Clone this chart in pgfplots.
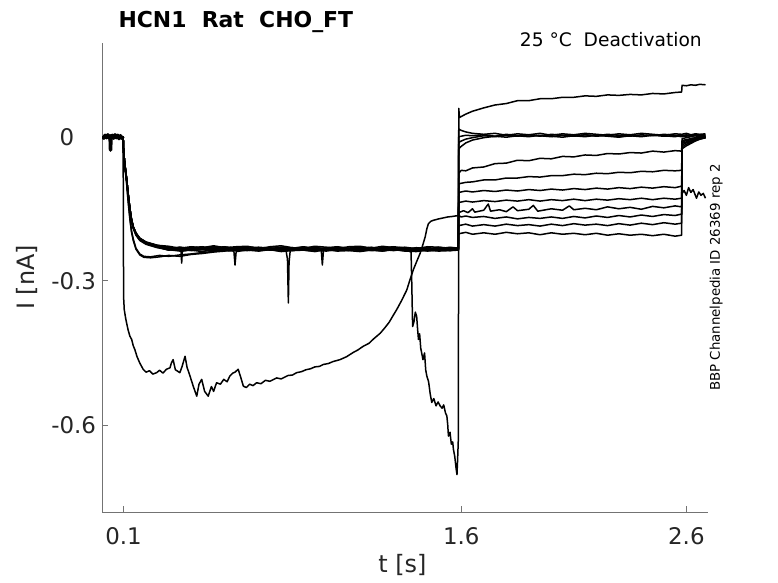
\documentclass[border=0pt]{standalone}
\usepackage{pgfplots}
\pgfplotsset{compat=1.18}
\usepackage{fontspec}
\setmainfont{DejaVu Sans}
\tikzset{tr/.style={black, line width=1.5bp, line join=round}}
\begin{document}
\begin{tikzpicture}
\begin{axis}[
  scale only axis, width=606bp, height=469bp,
  xmin=0.005, xmax=2.697, ymin=-0.781, ymax=0.195,
  axis x line*=bottom, axis y line*=left,
  axis line style={black!55, line width=0.8bp, -},
  xtick={0.1,1.6,2.6}, xticklabels={0.1,1.6,2.6},
  ytick={-0.6,-0.3,0}, yticklabels={-0.6,-0.3,{0\phantom{.0}}},
  tick align=inside, major tick length=6bp,
  tick style={black!55, line width=0.8bp},
  ticklabel style={font=\fontsize{23}{27}\selectfont, text=black!85},
  xticklabel style={anchor=base, yshift=-32.5bp},
  yticklabel style={anchor=east, xshift=-2.7bp},
  xlabel={t [s]}, ylabel={I [nA]},
  every axis x label/.style={at={(axis description cs:0.4955,-0.130)}, anchor=base, font=\fontsize{24}{28}\selectfont, text=black!85},
  every axis y label/.style={at={(axis description cs:-0.1233,0.5)}, anchor=center, rotate=90, font=\fontsize{24}{28}\selectfont, text=black!85},
  no markers,
]
% pre-pulse baseline (all sweeps overlap)
\addplot[black, line width=3.5bp, line join=round] coordinates {(0.005,0.001)(0.012,-0.003)(0.018,0.003)(0.024,-0.002)(0.03,0.004)(0.036,-0.003)(0.04,0.002)(0.042,-0.028)(0.044,-0.004)(0.05,0.003)(0.056,-0.003)(0.062,0.004)(0.068,-0.002)(0.074,0.003)(0.08,-0.004)(0.086,0.002)(0.092,-0.003)(0.098,0.001)};
% T1 (drops before 1.6, top trace after)
\addplot[tr] coordinates {(0.098,0)(0.1,-0.03)(0.105,-0.055)(0.113,-0.086)(0.12,-0.118)(0.128,-0.150)(0.135,-0.172)(0.143,-0.188)(0.155,-0.201)(0.172,-0.212)(0.2,-0.220)(0.25,-0.227)
(0.30,-0.231)(0.35,-0.235)(0.40,-0.232)(0.45,-0.234)(0.50,-0.230)(0.55,-0.233)(0.60,-0.236)(0.65,-0.232)(0.70,-0.234)(0.75,-0.231)(0.80,-0.235)(0.85,-0.233)(0.90,-0.230)(0.95,-0.234)(1.00,-0.236)(1.05,-0.232)(1.10,-0.234)(1.15,-0.231)(1.20,-0.235)(1.25,-0.233)(1.30,-0.236)(1.35,-0.234)(1.377,-0.240)
(1.380,-0.300)(1.384,-0.395)(1.390,-0.385)(1.396,-0.365)(1.402,-0.374)(1.406,-0.40)(1.41,-0.422)(1.415,-0.41)(1.42,-0.44)(1.43,-0.464)(1.437,-0.45)(1.442,-0.485)(1.447,-0.498)(1.455,-0.51)(1.462,-0.535)(1.469,-0.553)(1.478,-0.545)(1.488,-0.56)(1.497,-0.552)(1.506,-0.56)(1.515,-0.565)(1.522,-0.558)(1.53,-0.575)(1.536,-0.581)(1.54,-0.60)(1.543,-0.623)(1.55,-0.615)(1.556,-0.64)(1.562,-0.635)(1.565,-0.65)(1.571,-0.665)(1.577,-0.69)(1.581,-0.703)(1.584,-0.67)(1.587,-0.63)
(1.589,0.059)(1.592,0.040)(1.62,0.047)(1.65,0.053)(1.70,0.060)(1.75,0.066)(1.80,0.069)(1.85,0.075)(1.90,0.075)(1.95,0.079)(2.00,0.079)(2.05,0.082)(2.10,0.082)(2.15,0.085)(2.20,0.084)(2.25,0.087)(2.30,0.086)(2.35,0.088)(2.40,0.087)(2.45,0.090)(2.50,0.089)(2.55,0.092)(2.579,0.093)
(2.581,0.107)(2.60,0.106)(2.62,0.108)(2.64,0.107)(2.66,0.109)(2.685,0.108)};
% T2
\addplot[tr] coordinates {(0.098,0)(0.1,-0.03)(0.105,-0.055)(0.113,-0.086)(0.12,-0.118)(0.128,-0.150)(0.135,-0.172)(0.143,-0.188)(0.155,-0.201)(0.172,-0.212)(0.2,-0.220)(0.25,-0.226)
(0.30,-0.228)(0.35,-0.232)(0.40,-0.229)(0.45,-0.231)(0.50,-0.227)(0.55,-0.231)(0.60,-0.229)(0.65,-0.228)(0.70,-0.233)(0.75,-0.229)(0.80,-0.227)(0.85,-0.231)(0.90,-0.232)(0.95,-0.228)(1.00,-0.230)(1.05,-0.233)(1.10,-0.229)(1.15,-0.228)(1.20,-0.232)(1.25,-0.228)(1.30,-0.231)(1.35,-0.230)(1.40,-0.233)(1.45,-0.229)(1.50,-0.230)(1.55,-0.232)(1.587,-0.231)
(1.589,0.016)(1.60,0.013)(1.62,0.010)(1.65,0.007)(1.70,0.005)(1.75,0.007)(1.80,0.003)(1.85,0.006)(1.90,0.004)(1.95,0.007)(2.00,0.003)(2.05,0.006)(2.10,0.004)(2.15,0.007)(2.20,0.005)(2.25,0.003)(2.30,0.006)(2.35,0.004)(2.40,0.007)(2.45,0.005)(2.50,0.003)(2.55,0.006)(2.58,0.005)(2.60,0.007)(2.62,0.004)(2.64,0.006)(2.66,0.005)(2.685,0.006)};
% T3
\addplot[tr] coordinates {(0.098,0)(0.1,-0.03)(0.105,-0.056)(0.113,-0.087)(0.12,-0.119)(0.128,-0.151)(0.135,-0.173)(0.143,-0.189)(0.155,-0.202)(0.172,-0.213)(0.2,-0.221)(0.25,-0.228)
(0.30,-0.234)(0.35,-0.230)(0.40,-0.233)(0.45,-0.235)(0.50,-0.231)(0.55,-0.229)(0.60,-0.233)(0.65,-0.236)(0.70,-0.231)(0.75,-0.232)(0.80,-0.234)(0.822,-0.238)(0.828,-0.255)(0.832,-0.346)(0.835,-0.262)(0.84,-0.238)(0.85,-0.233)(0.90,-0.230)(0.95,-0.234)(1.00,-0.231)(1.05,-0.235)(1.10,-0.232)(1.15,-0.229)(1.20,-0.233)(1.25,-0.236)(1.30,-0.231)(1.35,-0.234)(1.40,-0.232)(1.45,-0.235)(1.50,-0.230)(1.55,-0.233)(1.587,-0.235)
(1.589,0.000)(1.60,0.001)(1.62,0.003)(1.65,0.002)(1.70,0.004)(1.75,0.001)(1.80,0.005)(1.85,0.002)(1.90,0.004)(1.95,0.001)(2.00,0.005)(2.05,0.003)(2.10,0.001)(2.15,0.004)(2.20,0.002)(2.25,0.005)(2.30,0.003)(2.35,0.001)(2.40,0.004)(2.45,0.002)(2.50,0.005)(2.55,0.003)(2.58,0.002)(2.60,0.004)(2.62,0.002)(2.64,0.005)(2.66,0.003)(2.685,0.004)};
% T4
\addplot[tr] coordinates {(0.098,0)(0.1,-0.03)(0.105,-0.055)(0.113,-0.086)(0.12,-0.118)(0.128,-0.150)(0.135,-0.172)(0.143,-0.189)(0.155,-0.203)(0.172,-0.214)(0.2,-0.222)(0.25,-0.229)
(0.30,-0.236)(0.35,-0.233)(0.355,-0.238)(0.358,-0.263)(0.361,-0.238)(0.40,-0.235)(0.45,-0.232)(0.50,-0.236)(0.55,-0.234)(0.60,-0.231)(0.65,-0.235)(0.70,-0.237)(0.75,-0.233)(0.80,-0.232)(0.85,-0.236)(0.90,-0.234)(0.95,-0.231)(1.00,-0.235)(1.05,-0.237)(1.10,-0.233)(1.15,-0.234)(1.20,-0.236)(1.25,-0.232)(1.30,-0.235)(1.35,-0.237)(1.40,-0.234)(1.45,-0.232)(1.50,-0.236)(1.55,-0.235)(1.587,-0.234)
(1.589,-0.012)(1.60,-0.009)(1.62,-0.005)(1.65,-0.002)(1.70,0.002)(1.75,0.000)(1.80,0.003)(1.85,0.001)(1.90,0.004)(1.95,0.002)(2.00,0.000)(2.05,0.003)(2.10,0.001)(2.15,0.004)(2.20,0.001)(2.25,0.003)(2.30,0.000)(2.35,0.003)(2.40,0.001)(2.45,0.004)(2.50,0.002)(2.55,0.000)(2.58,0.003)(2.60,0.001)(2.62,0.004)(2.64,0.002)(2.66,0.003)(2.685,0.001)};
% T5
\addplot[tr] coordinates {(0.098,0)(0.1,-0.03)(0.105,-0.056)(0.113,-0.088)(0.12,-0.120)(0.128,-0.153)(0.135,-0.175)(0.143,-0.191)(0.155,-0.205)(0.172,-0.216)(0.2,-0.224)(0.25,-0.231)
(0.30,-0.235)(0.35,-0.238)(0.40,-0.236)(0.45,-0.239)(0.50,-0.235)(0.55,-0.237)(0.59,-0.238)(0.595,-0.267)(0.60,-0.239)(0.65,-0.236)(0.70,-0.238)(0.75,-0.235)(0.80,-0.239)(0.85,-0.237)(0.90,-0.236)(0.95,-0.239)(1.00,-0.235)(1.05,-0.238)(1.10,-0.237)(1.15,-0.239)(1.20,-0.236)(1.25,-0.238)(1.30,-0.235)(1.35,-0.238)(1.40,-0.239)(1.45,-0.236)(1.50,-0.238)(1.55,-0.237)(1.587,-0.236)
(1.589,-0.025)(1.60,-0.020)(1.62,-0.013)(1.65,-0.007)(1.70,-0.002)(1.75,0.001)(1.80,-0.001)(1.85,0.002)(1.90,0.000)(1.95,0.003)(2.00,0.001)(2.05,-0.001)(2.10,0.002)(2.15,0.000)(2.20,0.003)(2.25,0.001)(2.30,-0.001)(2.35,0.002)(2.40,0.000)(2.45,0.003)(2.50,0.001)(2.55,0.002)(2.58,0.000)(2.60,0.002)(2.62,0.001)(2.64,0.003)(2.66,0.000)(2.685,0.002)};
% T6
\addplot[tr] coordinates {(0.098,0)(0.1,-0.03)(0.105,-0.055)(0.113,-0.085)(0.12,-0.117)(0.128,-0.149)(0.135,-0.171)(0.143,-0.187)(0.155,-0.200)(0.172,-0.211)(0.2,-0.219)(0.25,-0.226)
(0.30,-0.230)(0.35,-0.233)(0.40,-0.231)(0.45,-0.229)(0.50,-0.233)(0.55,-0.230)(0.60,-0.232)(0.65,-0.229)(0.70,-0.231)(0.75,-0.234)(0.80,-0.230)(0.85,-0.232)(0.90,-0.229)(0.95,-0.233)(0.978,-0.235)(0.983,-0.267)(0.988,-0.236)(1.00,-0.231)(1.05,-0.229)(1.10,-0.232)(1.15,-0.230)(1.20,-0.233)(1.25,-0.231)(1.30,-0.229)(1.35,-0.232)(1.40,-0.234)(1.45,-0.231)(1.50,-0.233)(1.55,-0.230)(1.587,-0.232)
(1.589,-0.076)(1.60,-0.070)(1.62,-0.071)(1.65,-0.065)(1.70,-0.063)(1.75,-0.056)(1.80,-0.055)(1.85,-0.049)(1.90,-0.050)(1.95,-0.045)(2.00,-0.046)(2.05,-0.041)(2.10,-0.042)(2.15,-0.038)(2.20,-0.039)(2.25,-0.035)(2.30,-0.036)(2.35,-0.033)(2.40,-0.034)(2.45,-0.030)(2.50,-0.032)(2.55,-0.029)(2.579,-0.030)
(2.581,-0.004)(2.60,-0.002)(2.62,0.000)(2.64,-0.001)(2.66,0.001)(2.685,0.000)};
% T7
\addplot[tr] coordinates {(0.098,0)(0.1,-0.03)(0.105,-0.055)(0.113,-0.086)(0.12,-0.118)(0.128,-0.150)(0.135,-0.172)(0.143,-0.188)(0.155,-0.202)(0.172,-0.213)(0.2,-0.221)(0.25,-0.228)
(0.30,-0.233)(0.35,-0.236)(0.40,-0.234)(0.45,-0.231)(0.50,-0.235)(0.55,-0.233)(0.60,-0.236)(0.65,-0.232)(0.70,-0.235)(0.75,-0.233)(0.80,-0.231)(0.85,-0.235)(0.90,-0.236)(0.95,-0.232)(1.00,-0.234)(1.05,-0.236)(1.10,-0.233)(1.15,-0.235)(1.20,-0.231)(1.25,-0.234)(1.30,-0.236)(1.35,-0.233)(1.40,-0.235)(1.45,-0.237)(1.50,-0.234)(1.55,-0.236)(1.587,-0.235)
(1.589,-0.098)(1.62,-0.095)(1.65,-0.094)(1.70,-0.090)(1.75,-0.090)(1.80,-0.086)(1.85,-0.086)(1.90,-0.083)(1.95,-0.084)(2.00,-0.081)(2.05,-0.081)(2.10,-0.078)(2.15,-0.079)(2.20,-0.076)(2.25,-0.077)(2.30,-0.074)(2.35,-0.075)(2.40,-0.072)(2.45,-0.073)(2.50,-0.070)(2.55,-0.071)(2.579,-0.070)
(2.581,-0.008)(2.60,-0.006)(2.62,-0.004)(2.64,-0.003)(2.66,-0.001)(2.685,-0.001)};
% T8
\addplot[tr] coordinates {(0.098,0)(0.1,-0.03)(0.105,-0.055)(0.113,-0.086)(0.12,-0.118)(0.128,-0.150)(0.135,-0.172)(0.143,-0.188)(0.155,-0.201)(0.172,-0.212)(0.2,-0.220)(0.25,-0.227)
(0.30,-0.233)(0.35,-0.230)(0.40,-0.234)(0.45,-0.232)(0.50,-0.229)(0.55,-0.233)(0.60,-0.231)(0.65,-0.234)(0.70,-0.230)(0.75,-0.232)(0.80,-0.235)(0.85,-0.231)(0.90,-0.233)(0.95,-0.230)(1.00,-0.234)(1.05,-0.231)(1.10,-0.235)(1.15,-0.232)(1.20,-0.230)(1.25,-0.234)(1.30,-0.232)(1.35,-0.235)(1.40,-0.231)(1.45,-0.233)(1.50,-0.235)(1.55,-0.232)(1.587,-0.233)
(1.589,-0.116)(1.62,-0.113)(1.65,-0.115)(1.70,-0.112)(1.75,-0.114)(1.80,-0.111)(1.85,-0.113)(1.90,-0.110)(1.95,-0.112)(2.00,-0.109)(2.05,-0.111)(2.10,-0.108)(2.15,-0.110)(2.20,-0.107)(2.25,-0.109)(2.30,-0.106)(2.35,-0.108)(2.40,-0.105)(2.45,-0.107)(2.50,-0.104)(2.55,-0.106)(2.579,-0.103)
(2.581,-0.011)(2.60,-0.008)(2.62,-0.006)(2.64,-0.004)(2.66,-0.002)(2.685,-0.001)};
% T9
\addplot[tr] coordinates {(0.098,0)(0.1,-0.03)(0.105,-0.056)(0.113,-0.087)(0.12,-0.119)(0.128,-0.152)(0.135,-0.174)(0.143,-0.190)(0.155,-0.204)(0.172,-0.215)(0.2,-0.223)(0.25,-0.230)
(0.30,-0.236)(0.35,-0.233)(0.40,-0.237)(0.45,-0.235)(0.50,-0.238)(0.55,-0.234)(0.60,-0.236)(0.65,-0.233)(0.70,-0.237)(0.75,-0.235)(0.80,-0.238)(0.85,-0.234)(0.90,-0.236)(0.95,-0.238)(1.00,-0.233)(1.05,-0.236)(1.10,-0.234)(1.15,-0.237)(1.20,-0.235)(1.25,-0.238)(1.30,-0.234)(1.35,-0.236)(1.40,-0.238)(1.45,-0.235)(1.50,-0.237)(1.55,-0.234)(1.587,-0.236)
(1.589,-0.137)(1.62,-0.134)(1.65,-0.136)(1.70,-0.133)(1.75,-0.135)(1.80,-0.132)(1.85,-0.134)(1.90,-0.131)(1.95,-0.134)(2.00,-0.131)(2.05,-0.133)(2.10,-0.130)(2.15,-0.133)(2.20,-0.130)(2.25,-0.132)(2.30,-0.129)(2.35,-0.131)(2.40,-0.128)(2.45,-0.131)(2.50,-0.128)(2.55,-0.130)(2.579,-0.128)
(2.581,-0.014)(2.60,-0.011)(2.62,-0.008)(2.64,-0.005)(2.66,-0.003)(2.685,-0.002)};
% T10
\addplot[tr] coordinates {(0.098,0)(0.1,-0.03)(0.105,-0.055)(0.113,-0.086)(0.12,-0.118)(0.128,-0.150)(0.135,-0.172)(0.143,-0.188)(0.155,-0.201)(0.172,-0.212)(0.2,-0.220)(0.25,-0.227)
(0.30,-0.232)(0.35,-0.235)(0.40,-0.230)(0.45,-0.233)(0.50,-0.236)(0.55,-0.232)(0.60,-0.234)(0.65,-0.231)(0.70,-0.235)(0.75,-0.233)(0.80,-0.230)(0.85,-0.234)(0.90,-0.232)(0.95,-0.235)(1.00,-0.233)(1.05,-0.230)(1.10,-0.234)(1.15,-0.236)(1.20,-0.232)(1.25,-0.234)(1.30,-0.231)(1.35,-0.235)(1.40,-0.233)(1.45,-0.236)(1.50,-0.232)(1.55,-0.234)(1.587,-0.233)
(1.589,-0.158)(1.61,-0.154)(1.63,-0.158)(1.65,-0.150)(1.66,-0.157)(1.70,-0.153)(1.72,-0.140)(1.73,-0.155)(1.77,-0.152)(1.80,-0.156)(1.83,-0.146)(1.85,-0.154)(1.90,-0.151)(1.92,-0.143)(1.94,-0.155)(2.00,-0.150)(2.05,-0.153)(2.08,-0.144)(2.10,-0.152)(2.15,-0.149)(2.20,-0.152)(2.25,-0.146)(2.30,-0.150)(2.35,-0.147)(2.40,-0.151)(2.45,-0.145)(2.50,-0.148)(2.55,-0.144)(2.579,-0.146)
(2.581,-0.017)(2.60,-0.013)(2.62,-0.010)(2.64,-0.006)(2.66,-0.004)(2.685,-0.002)};
% T11 (deep sweep)
\addplot[tr] coordinates {(0.098,0)(0.100,-0.333)(0.103,-0.36)(0.11,-0.38)(0.12,-0.402)(0.128,-0.415)(0.136,-0.422)(0.143,-0.435)(0.15,-0.443)(0.16,-0.458)(0.172,-0.471)(0.18,-0.478)(0.187,-0.484)(0.2,-0.49)(0.215,-0.487)(0.23,-0.494)(0.247,-0.491)(0.26,-0.486)(0.275,-0.492)(0.29,-0.484)(0.306,-0.481)(0.313,-0.47)(0.32,-0.464)(0.33,-0.485)(0.35,-0.491)(0.36,-0.478)(0.373,-0.457)(0.382,-0.48)(0.395,-0.498)(0.41,-0.52)(0.425,-0.54)(0.435,-0.515)(0.447,-0.505)(0.46,-0.53)(0.476,-0.54)(0.49,-0.52)(0.50,-0.53)(0.513,-0.512)(0.53,-0.515)(0.545,-0.505)(0.56,-0.51)(0.572,-0.498)(0.585,-0.492)(0.595,-0.49)(0.609,-0.484)(0.62,-0.50)(0.632,-0.519)(0.645,-0.522)(0.66,-0.515)(0.675,-0.518)(0.691,-0.512)(0.71,-0.514)(0.73,-0.507)(0.75,-0.509)(0.78,-0.502)(0.80,-0.504)(0.83,-0.497)(0.85,-0.496)(0.869,-0.491)(0.89,-0.489)(0.91,-0.485)(0.93,-0.483)(0.95,-0.479)(0.97,-0.478)(0.987,-0.474)(1.01,-0.472)(1.03,-0.468)(1.061,-0.464)(1.09,-0.458)(1.12,-0.449)(1.14,-0.444)(1.165,-0.436)(1.19,-0.430)(1.21,-0.421)(1.24,-0.409)(1.26,-0.398)(1.28,-0.386)(1.30,-0.370)(1.313,-0.360)(1.335,-0.341)(1.358,-0.319)(1.372,-0.298)(1.387,-0.277)(1.40,-0.262)(1.417,-0.243)(1.43,-0.224)(1.44,-0.208)(1.447,-0.192)(1.454,-0.181)(1.465,-0.176)(1.476,-0.174)(1.50,-0.171)(1.52,-0.169)(1.54,-0.167)(1.56,-0.166)(1.587,-0.164)
(1.60,-0.167)(1.62,-0.165)(1.65,-0.168)(1.70,-0.166)(1.75,-0.170)(1.80,-0.167)(1.85,-0.171)(1.90,-0.168)(1.95,-0.170)(2.00,-0.167)(2.05,-0.170)(2.10,-0.166)(2.15,-0.169)(2.20,-0.165)(2.25,-0.168)(2.30,-0.164)(2.35,-0.167)(2.40,-0.163)(2.45,-0.166)(2.50,-0.162)(2.55,-0.164)(2.579,-0.161)
(2.581,-0.118)(2.59,-0.112)(2.60,-0.122)(2.61,-0.106)(2.62,-0.116)(2.63,-0.110)(2.645,-0.128)(2.655,-0.115)(2.665,-0.122)(2.675,-0.118)(2.685,-0.128)};
% T12
\addplot[tr] coordinates {(0.098,0)(0.1,-0.03)(0.105,-0.058)(0.113,-0.092)(0.12,-0.13)(0.128,-0.168)(0.135,-0.195)(0.143,-0.213)(0.155,-0.232)(0.172,-0.244)(0.19,-0.249)(0.22,-0.250)(0.26,-0.247)(0.30,-0.249)(0.35,-0.246)(0.40,-0.244)(0.45,-0.241)(0.50,-0.239)(0.55,-0.236)(0.60,-0.237)(0.65,-0.234)(0.70,-0.236)(0.75,-0.233)(0.80,-0.237)(0.85,-0.235)(0.90,-0.233)(0.95,-0.236)(1.00,-0.234)(1.05,-0.237)(1.10,-0.235)(1.15,-0.233)(1.20,-0.236)(1.25,-0.235)(1.30,-0.237)(1.35,-0.234)(1.40,-0.236)(1.45,-0.233)(1.50,-0.235)(1.55,-0.237)(1.587,-0.235)
(1.589,-0.185)(1.62,-0.182)(1.65,-0.186)(1.70,-0.183)(1.75,-0.186)(1.80,-0.182)(1.85,-0.185)(1.90,-0.183)(1.95,-0.186)(2.00,-0.182)(2.05,-0.185)(2.10,-0.181)(2.15,-0.184)(2.20,-0.182)(2.25,-0.185)(2.30,-0.181)(2.35,-0.184)(2.40,-0.180)(2.45,-0.183)(2.50,-0.179)(2.55,-0.182)(2.579,-0.180)
(2.581,-0.021)(2.60,-0.016)(2.62,-0.012)(2.64,-0.008)(2.66,-0.005)(2.685,-0.002)};
% T13
\addplot[tr] coordinates {(0.098,0)(0.1,-0.03)(0.105,-0.06)(0.113,-0.095)(0.12,-0.134)(0.128,-0.172)(0.135,-0.198)(0.143,-0.216)(0.155,-0.234)(0.172,-0.246)(0.19,-0.251)(0.22,-0.252)(0.26,-0.250)(0.30,-0.247)(0.35,-0.249)(0.40,-0.245)(0.45,-0.243)(0.50,-0.240)(0.55,-0.238)(0.60,-0.235)(0.65,-0.237)(0.70,-0.234)(0.75,-0.236)(0.80,-0.235)(0.85,-0.237)(0.90,-0.234)(0.95,-0.236)(1.00,-0.238)(1.05,-0.235)(1.10,-0.237)(1.15,-0.234)(1.20,-0.237)(1.25,-0.236)(1.30,-0.234)(1.35,-0.237)(1.40,-0.235)(1.45,-0.238)(1.50,-0.236)(1.55,-0.234)(1.587,-0.236)
(1.589,-0.202)(1.62,-0.199)(1.65,-0.203)(1.70,-0.200)(1.75,-0.203)(1.80,-0.199)(1.85,-0.202)(1.90,-0.200)(1.95,-0.204)(2.00,-0.200)(2.05,-0.203)(2.10,-0.201)(2.15,-0.204)(2.20,-0.201)(2.25,-0.205)(2.30,-0.202)(2.35,-0.205)(2.40,-0.203)(2.45,-0.206)(2.50,-0.203)(2.55,-0.207)(2.579,-0.205)
(2.581,-0.025)(2.60,-0.019)(2.62,-0.014)(2.64,-0.009)(2.66,-0.005)(2.685,-0.002)};
\end{axis}
\node[anchor=base west, font=\bfseries\fontsize{22}{26}\selectfont] at (12.8bp,484bp) {HCN1\ \ Rat\ \ CHO\_FT};
\node[anchor=base east, font=\fontsize{18.7}{22}\selectfont, inner sep=0pt] at (599.8bp,465bp) {25 °C\ \ Deactivation};
\node[rotate=90, font=\fontsize{13.4}{16}\selectfont, inner sep=0pt] at (614bp,234.5bp) {BBP Channelpedia ID 26369 rep 2};
\pgfresetboundingbox
\useasboundingbox (-102.2bp,-71bp) rectangle (675.8bp,512bp);
\end{tikzpicture}
\end{document}
